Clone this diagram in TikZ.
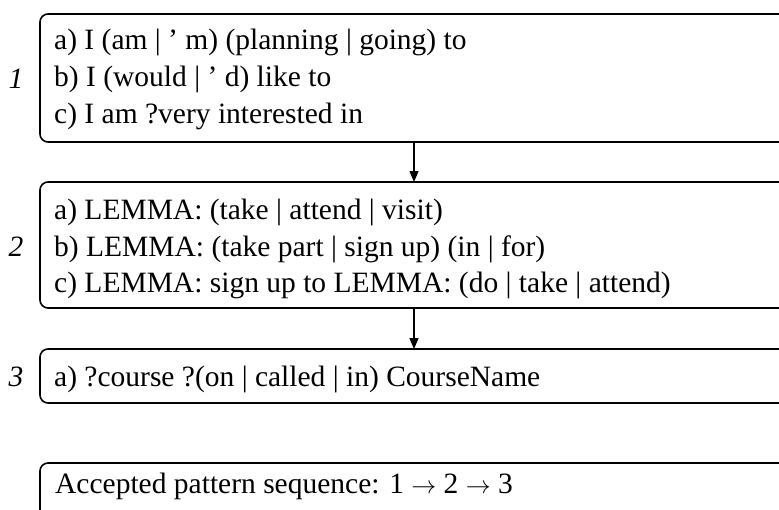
\documentclass[tikz,border=0pt]{standalone}
\usepackage{fontspec}
\setmainfont{Liberation Serif}
\usetikzlibrary{arrows.meta}
\begin{document}
\begin{tikzpicture}[x=1pt,y=-1pt,
  box/.style={draw, line width=1.6pt, rounded corners=8pt, anchor=north west, inner sep=0pt, outer sep=0pt, minimum width=820pt},
  txt/.style={anchor=base west, inner sep=0pt, font=\fontsize{29.5}{36}\selectfont},
  lbl/.style={anchor=base, inner sep=0pt, font=\fontsize{29.5}{36}\selectfont\itshape},
  arr/.style={-{Triangle[width=9pt,length=11pt]}, line width=1.4pt}]
\path[use as bounding box] (0,0) rectangle (779,509);
\clip (0,0) rectangle (779,509);
% boxes
\node[box, minimum height=128pt] (b1) at (40,14) {};
\node[box, minimum height=126pt] (b2) at (40,182) {};
\node[box, minimum height=54pt] (b3) at (40,349) {};
\node[box, minimum height=56pt] (b4) at (40,463) {};
% labels
\node[lbl] (l1) at (16,88) {1};
\node[lbl] (l2) at (16,256) {2};
\node[lbl] (l3) at (16,386) {3};
% texts
\node[txt] (t1a) at (54,49) {a) I (am | ’ m) (planning | going) to};
\node[txt] (t1b) at (54,86) {b) I (would | ’ d) like to};
\node[txt] (t1c) at (54,123) {c) I am ?very interested in};
\node[txt] (t2a) at (54,219) {a) LEMMA: (take | attend | visit)};
\node[txt] (t2b) at (54,256) {b) LEMMA: (take part | sign up) (in | for)};
\node[txt] (t2c) at (54,292) {c) LEMMA: sign up to LEMMA: (do | take | attend)};
\node[txt] (t3a) at (54,386) {a) ?course ?(on | called | in) CourseName};
\node[txt] (t4) at (55,493) {Accepted pattern sequence: 1 $\rightarrow$ 2 $\rightarrow$ 3};
% arrows
\coordinate (ax) at (414,0);
\draw[arr] (b1.south -| ax) -- (b2.north -| ax);
\draw[arr] (b2.south -| ax) -- (b3.north -| ax);
\end{tikzpicture}
\end{document}
